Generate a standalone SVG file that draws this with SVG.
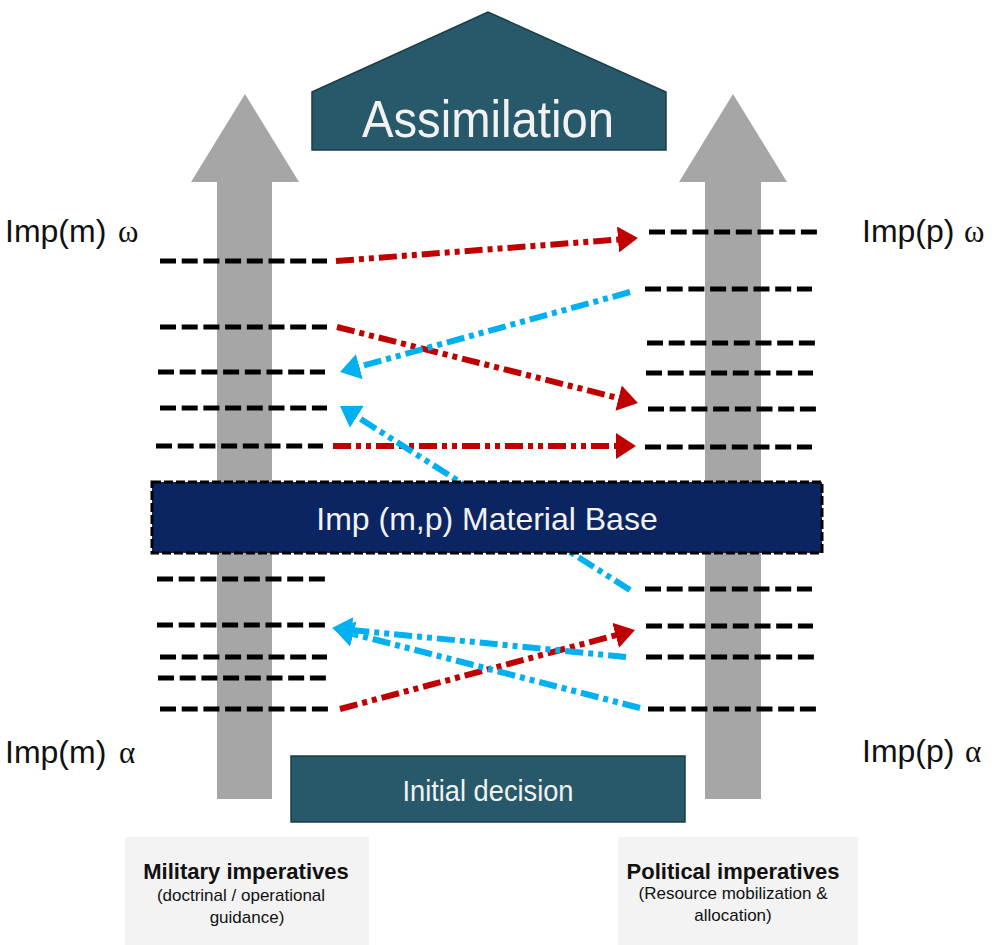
<svg xmlns="http://www.w3.org/2000/svg" width="995" height="945" viewBox="0 0 995 945">
<style>
  .gray{fill:#a6a6a6}
  .lvl{stroke:#000;stroke-width:5;stroke-dasharray:16 5.7;fill:none}
  .red{stroke:#c00000;stroke-width:6;stroke-dasharray:18 5 5 5 5 5;fill:none;marker-end:url(#hr)}
  .blue{stroke:#00b0f0;stroke-width:6;stroke-dasharray:18 5 5 5 5 5;fill:none;marker-end:url(#hb)}
  .lab{font-family:"Liberation Sans",Arial,sans-serif;font-size:32px;fill:#111}
  .greek{font-family:"Liberation Serif","Times New Roman",serif;font-size:31px;fill:#111}
  .teal{fill:#27596a;stroke:#1b3c47;stroke-width:1.5}
  .wt{font-family:"Liberation Sans",Arial,sans-serif;fill:#f2f2f2;text-anchor:middle}
  .bt{font-family:"Liberation Sans",Arial,sans-serif;fill:#111;text-anchor:middle}
</style>
<defs>
  <marker id="hr" markerUnits="userSpaceOnUse" viewBox="0 0 20 26" markerWidth="20" markerHeight="26" refX="2" refY="13" orient="auto"><path d="M0,0 L20,13 L0,26 z" fill="#c00000"/></marker>
  <marker id="hb" markerUnits="userSpaceOnUse" viewBox="0 0 20 26" markerWidth="20" markerHeight="26" refX="2" refY="13" orient="auto"><path d="M0,0 L20,13 L0,26 z" fill="#00b0f0"/></marker>
</defs>
<rect width="995" height="945" fill="#fff"/>

<g id="arrow-military">
  <polygon class="gray" points="245,94 299,182 272,182 272,799 217,799 217,182 191,182"/>
</g>
<g id="arrow-political">
  <polygon class="gray" points="733,94 787,182 761,182 761,799 705,799 705,182 679,182"/>
</g>

<g id="assimilation">
  <polygon class="teal" points="312,92 488,12 666,92 666,150 312,150"/>
  <text class="wt" x="488" y="137" font-size="52" textLength="252" lengthAdjust="spacingAndGlyphs">Assimilation</text>
</g>

<g id="labels">
  <text class="lab" x="5" y="242">Imp(m)</text><text class="greek" x="118" y="242">ω</text>
  <text class="lab" x="5" y="763">Imp(m)</text><text class="greek" x="119" y="763">α</text>
  <text class="lab" x="862" y="242">Imp(p)</text><text class="greek" x="964" y="242">ω</text>
  <text class="lab" x="862" y="762">Imp(p)</text><text class="greek" x="965" y="762">α</text>
</g>

<g id="levels-military">
  <path class="lvl" d="M160,261H327M160,327H327M158,372H325M160,408H327M156,446H323"/>
  <path class="lvl" d="M157,579H325M157,625H325M160,657H327M158,678H326M160,709H328"/>
</g>
<g id="levels-political">
  <path class="lvl" d="M649,232H818M645,289H812M647,343H815M646,373H813M648,409H816M645,447H812"/>
  <path class="lvl" d="M645,589H812M646,626H813M646,657H815M648,709H816"/>
</g>

<g id="connectors">
  <path class="red" d="M336,261 L620,239.4"/>
  <path class="red" d="M337,327 L620.5,398.6"/>
  <path class="red" d="M333,446 L618,446"/>
  <path class="red" d="M340,709 L617.6,634.7"/>
  <path class="blue" d="M630,292 L357.4,367.2"/>
  <path class="blue" d="M630,590 L355.2,415.6"/>
  <path class="blue" d="M626,657 L349.9,629.8"/>
  <path class="blue" d="M640,708 L351.4,633.5"/>
</g>

<g id="material-base">
  <rect x="152" y="482" width="670" height="71" fill="#0b2462" stroke="#000" stroke-width="3" stroke-dasharray="9 3"/>
  <text class="wt" x="487" y="530" font-size="32">Imp (m,p) Material Base</text>
</g>

<g id="initial-decision">
  <rect class="teal" x="291" y="756" width="394" height="66"/>
  <text class="wt" x="488" y="801" font-size="29" textLength="171" lengthAdjust="spacingAndGlyphs">Initial decision</text>
</g>

<g id="military-imperatives">
  <rect x="125" y="837" width="244" height="108" fill="#f3f3f3"/>
  <text class="bt" x="246" y="879" font-size="22" font-weight="bold">Military imperatives</text>
  <text class="bt" x="241" y="901" font-size="17">(doctrinal / operational</text>
  <text class="bt" x="247" y="923" font-size="17">guidance)</text>
</g>
<g id="political-imperatives">
  <rect x="618" y="837" width="240" height="108" fill="#f3f3f3"/>
  <text class="bt" x="733" y="879" font-size="22" font-weight="bold">Political imperatives</text>
  <text class="bt" x="733" y="899" font-size="17">(Resource mobilization &amp;</text>
  <text class="bt" x="733" y="921" font-size="17">allocation)</text>
</g>
</svg>
